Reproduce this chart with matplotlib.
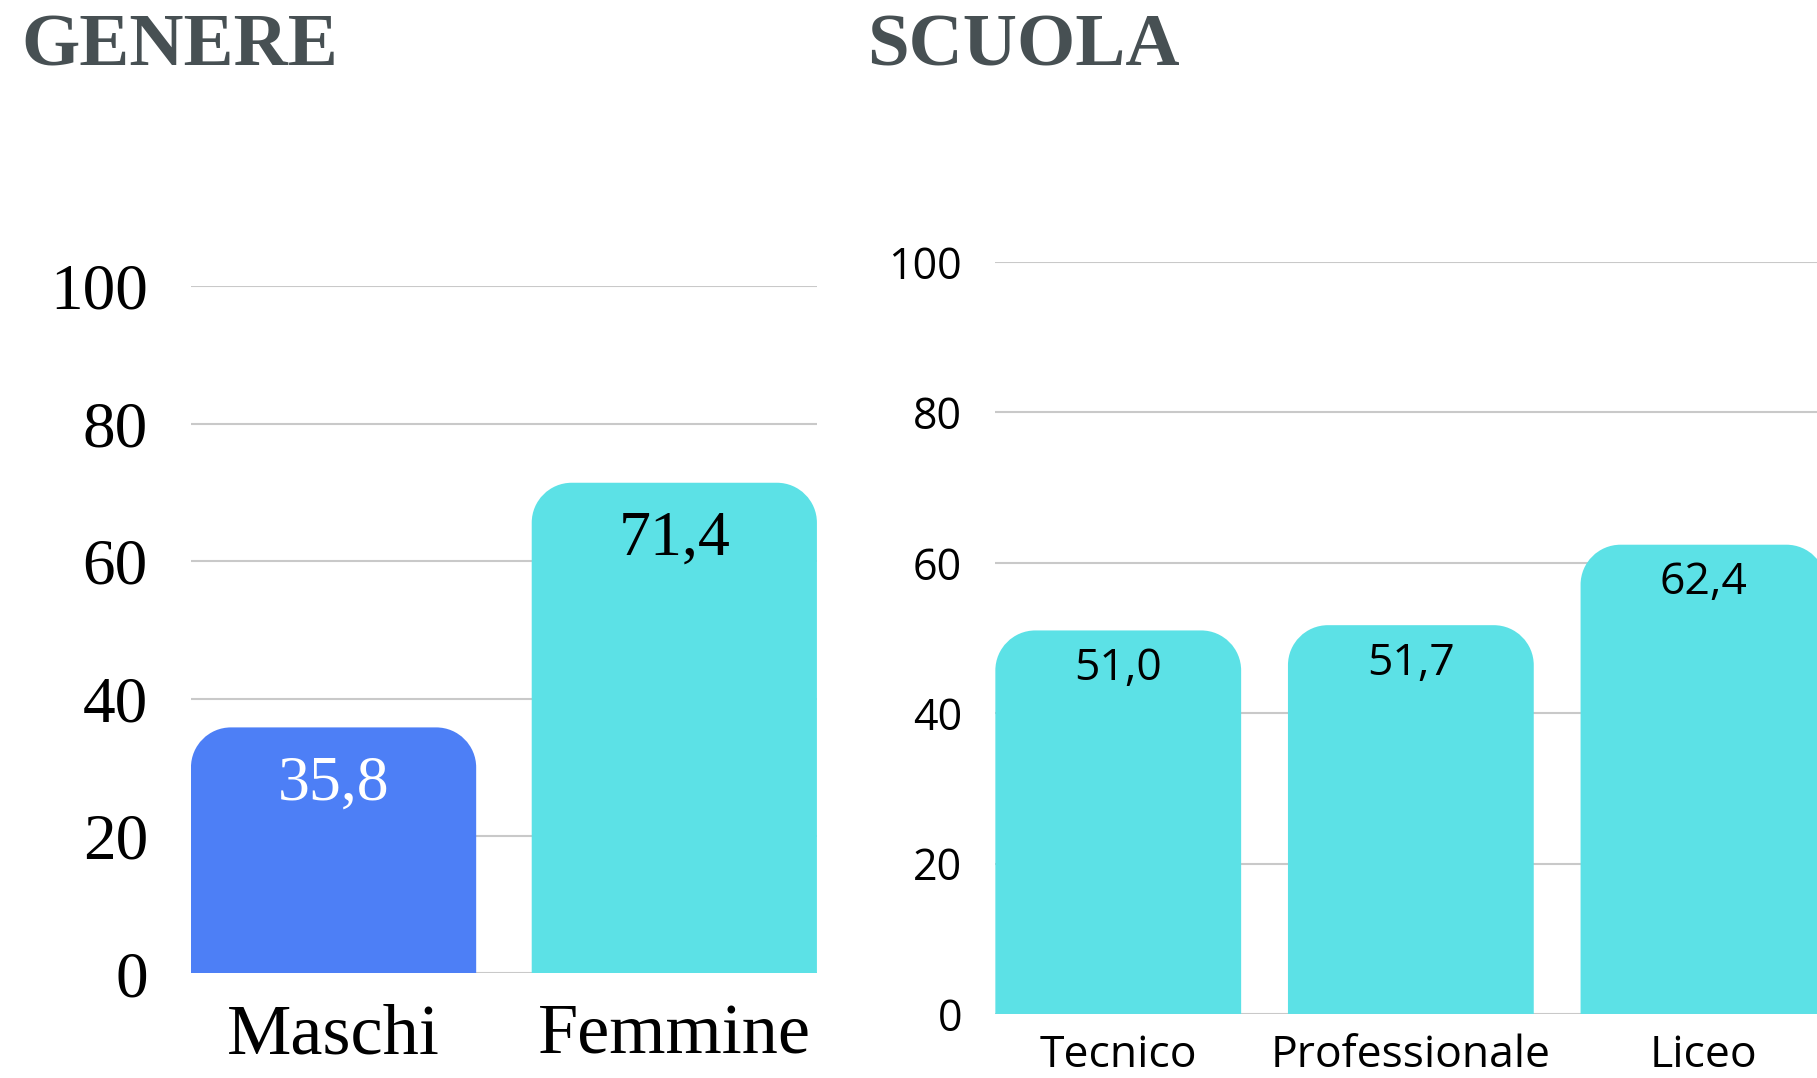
import numpy as np
import matplotlib.pyplot as plt
from matplotlib.path import Path
from matplotlib.patches import PathPatch

# data
genere_cat = ['Maschi', 'Femmine']
genere_val = [35.8, 71.4]
genere_col = ['#4d7ff6', '#5ce1e6']
genere_txt = ['white', 'black']

scuola_cat = ['Tecnico', 'Professionale', 'Liceo']
scuola_val = [51.0, 51.7, 62.4]

yticks = [0, 20, 40, 60, 80, 100]

CYAN = '#5ce1e6'
GRID = '#c9c9c9'
TITLE = '#475053'


def fmt(v):
    return ('%.1f' % v).replace('.', ',')


def round_top(ax, rect, r_px, color):
    """replace a bar rectangle by one with rounded top corners"""
    x0, y0 = rect.get_x(), rect.get_y()
    w, h = rect.get_width(), rect.get_height()
    p0 = ax.transData.transform((0, 0))
    p1 = ax.transData.transform((1, 1))
    rx = r_px / (p1[0] - p0[0])
    ry = r_px / (p1[1] - p0[1])
    k = 0.5523
    x1, y1 = x0 + w, y0 + h
    verts = [(x0, y0), (x0, y1 - ry),
             (x0, y1 - ry + k * ry), (x0 + rx - k * rx, y1), (x0 + rx, y1),
             (x1 - rx, y1),
             (x1 - rx + k * rx, y1), (x1, y1 - ry + k * ry), (x1, y1 - ry),
             (x1, y0), (x0, y0)]
    codes = [Path.MOVETO, Path.LINETO,
             Path.CURVE4, Path.CURVE4, Path.CURVE4,
             Path.LINETO,
             Path.CURVE4, Path.CURVE4, Path.CURVE4,
             Path.LINETO, Path.CLOSEPOLY]
    rect.remove()
    ax.add_patch(PathPatch(Path(verts, codes), facecolor=color, edgecolor='none', zorder=2))


def style_axes(ax):
    ax.set_ylim(0, 100)
    ax.set_yticks(yticks)
    ax.grid(axis='y', color=GRID, linewidth=1.5, zorder=0)
    ax.set_axisbelow(True)
    for s in ax.spines.values():
        s.set_visible(False)
    ax.tick_params(length=0)


fig = plt.figure(figsize=(18.17, 10.78), dpi=100)
fig.patch.set_facecolor('white')

# ---- GENERE ----
w1 = 0.837
ax1 = fig.add_axes([0.1051, 0.0970, 0.3445, 0.6375])
style_axes(ax1)
ax1.set_xlim(-w1 / 2, 1 + w1 / 2)
bars = ax1.bar(range(len(genere_cat)), genere_val, width=w1, color=genere_col)
for b, c in zip(bars, genere_col):
    round_top(ax1, b, 40, c)
for i, v in enumerate(genere_val):
    ax1.text(i, v - 8.3, fmt(v), ha='center', va='center', fontsize=46,
             family='Liberation Serif', color=genere_txt[i], zorder=3)
ax1.set_xticks(range(len(genere_cat)))
ax1.set_xticklabels(genere_cat, family='Liberation Serif', fontsize=52)
ax1.set_yticklabels([str(t) for t in yticks], family='Liberation Serif', fontsize=47)
ax1.tick_params(axis='y', pad=31)
ax1.tick_params(axis='x', pad=22)

# ---- SCUOLA ----
w2 = 0.84
ax2 = fig.add_axes([0.5478, 0.0594, 0.4522, 0.6976])
style_axes(ax2)
ax2.set_xlim(-w2 / 2, -w2 / 2 + 2.808)
bars = ax2.bar(range(len(scuola_cat)), scuola_val, width=w2, color=CYAN)
for b in bars:
    round_top(ax2, b, 40, CYAN)
for i, v in enumerate(scuola_val):
    ax2.text(i, v - 5.1, fmt(v), ha='center', va='center', fontsize=32,
             family='Open Sans', color='black', zorder=3)
ax2.set_xticks(range(len(scuola_cat)))
ax2.set_xticklabels(scuola_cat, family='Open Sans', fontsize=32)
ax2.set_yticklabels([str(t) for t in yticks], family='Open Sans', fontsize=31)
ax2.tick_params(axis='y', pad=24)
ax2.tick_params(axis='x', pad=14)

# titles
fig.text(21 / 1817, 1 - 65 / 1078, 'GENERE', family='Liberation Serif', weight='bold',
         fontsize=54, color=TITLE, ha='left', va='baseline')
fig.text(867 / 1817, 1 - 65 / 1078, 'SCUOLA', family='Liberation Serif', weight='bold',
         fontsize=54, color=TITLE, ha='left', va='baseline')

fig.savefig('out.png', dpi=100, facecolor='white')
